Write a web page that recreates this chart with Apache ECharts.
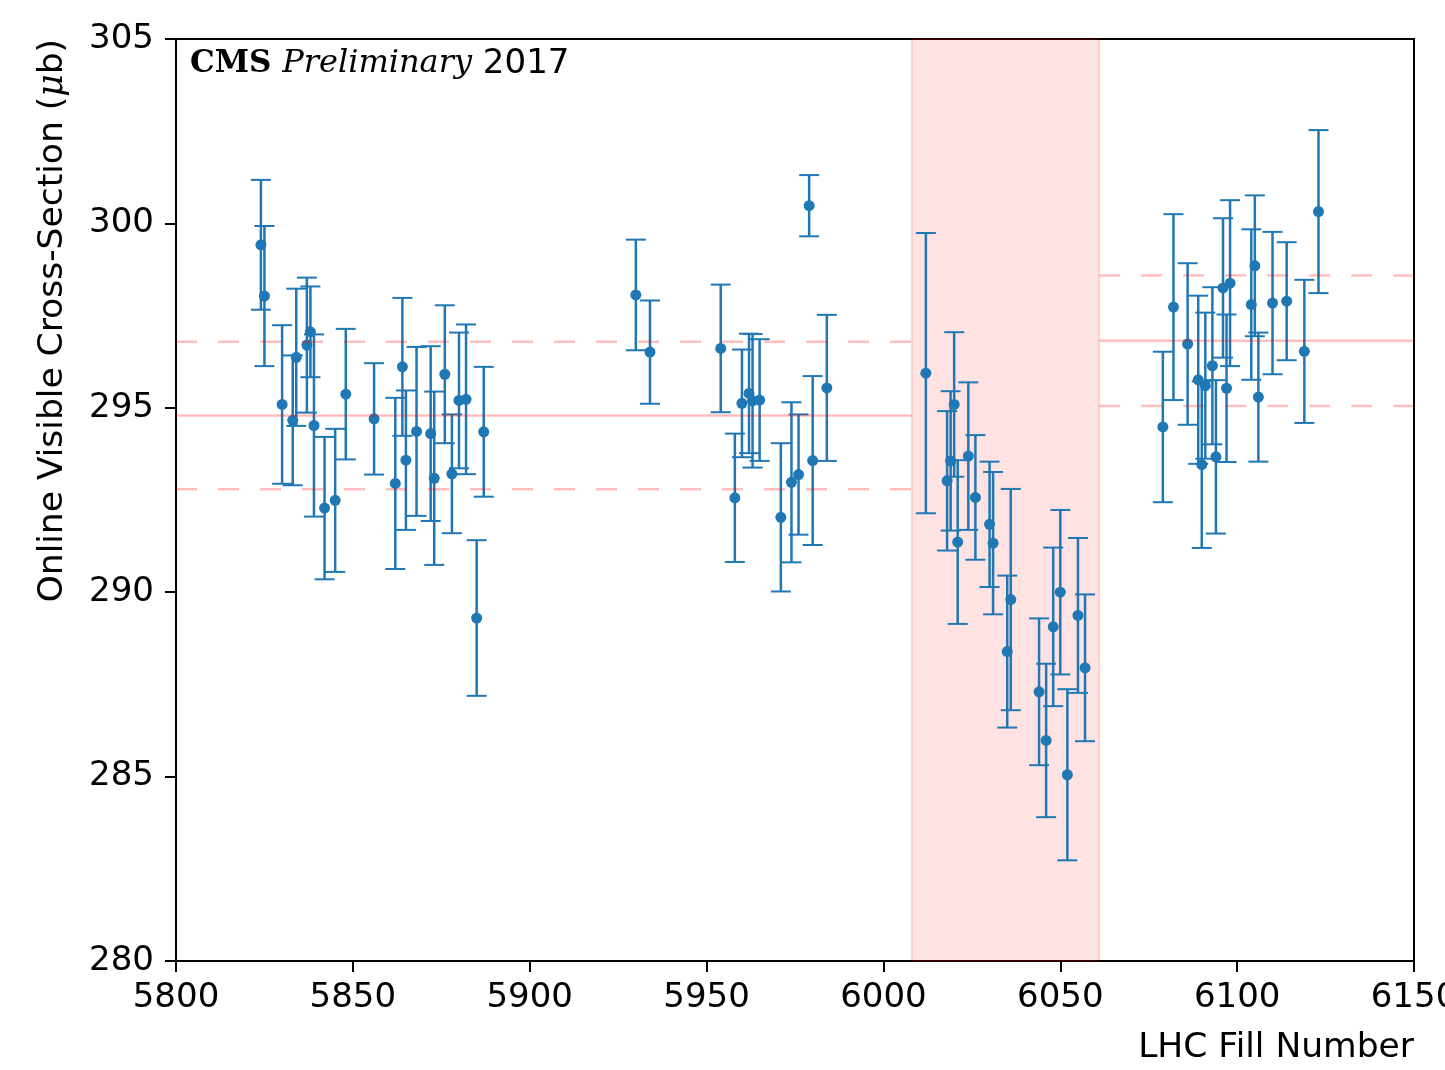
<!DOCTYPE html>
<html>
<head>
<meta charset="utf-8">
<script src="https://cdn.jsdelivr.net/npm/echarts@6/dist/echarts.min.js"></script>
<style>
  html, body { margin: 0; padding: 0; background: #fff; }
  #main { width: 1445px; height: 1070px; }
</style>
</head>
<body>
<div id="main"></div>
<script>
// LHC fills and the measured visible cross-section (ub) with its error
var fills = [5824, 5825, 5830, 5833, 5834, 5837, 5838, 5839, 5842, 5845, 5848, 5856,
             5862, 5864, 5865, 5868, 5872, 5873, 5876, 5878, 5880, 5882, 5885, 5887,
             5930, 5934, 5954, 5958, 5960, 5962, 5963, 5965, 5971, 5974, 5976, 5979, 5980, 5984,
             6012, 6018, 6019, 6020, 6021, 6024, 6026, 6030, 6031, 6035, 6036,
             6044, 6046, 6048, 6050, 6052, 6055, 6057,
             6079, 6082, 6086, 6089, 6090, 6091, 6093, 6094, 6096, 6097, 6098,
             6104, 6105, 6106, 6110, 6114, 6119, 6123];
var xsec = [299.42, 298.03, 295.09, 294.66, 296.37, 296.70, 297.06, 294.52, 292.28, 292.49, 295.37, 294.70,
            292.95, 296.11, 293.58, 294.36, 294.30, 293.09, 295.91, 293.21, 295.20, 295.23, 289.30, 294.35,
            298.06, 296.51, 296.61, 292.56, 295.12, 295.39, 295.19, 295.21, 292.03, 292.98, 293.19, 300.48, 293.57, 295.54,
            295.94, 293.02, 293.56, 295.09, 291.36, 293.69, 292.57, 291.84, 291.33, 288.39, 289.80,
            287.30, 285.98, 289.06, 290.00, 285.05, 289.37, 287.95,
            294.48, 297.73, 296.73, 295.76, 293.46, 295.60, 296.14, 293.67, 298.25, 295.53, 298.38,
            297.80, 298.85, 295.29, 297.84, 297.89, 296.53, 300.32];
var errs = [1.76, 1.90, 2.15, 1.76, 1.86, 1.83, 1.23, 2.47, 1.93, 1.94, 1.77, 1.51,
            2.32, 1.87, 1.89, 2.29, 2.37, 2.35, 1.87, 1.61, 1.84, 2.03, 2.11, 1.76,
            1.50, 1.40, 1.73, 1.74, 1.46, 1.62, 1.81, 1.65, 2.01, 2.17, 1.63, 0.83, 2.29, 1.98,
            3.80, 1.89, 1.89, 1.96, 2.22, 2.00, 1.69, 1.70, 1.93, 2.06, 3.00,
            1.99, 2.08, 2.15, 2.23, 2.32, 2.10, 1.99,
            2.04, 2.52, 2.19, 2.28, 2.26, 1.98, 2.13, 2.08, 1.89, 2.00, 2.25,
            2.04, 1.91, 1.75, 1.93, 1.60, 1.94, 2.21];

// shaded fill range and the two reference periods (mean, spread)
var bandRange = [6008, 6061];
var periodA = { from: 5800, to: 6008, mean: 294.79, spread: 2.0 };
var periodB = { from: 6061, to: 6150, mean: 296.82, spread: 1.77 };

var xTicks = [5800, 6150, 50];
var yTicks = [280, 305, 5];

var blue = '#1f77b4';
var refColor = 'rgba(255,0,0,0.25)';
var font = 'DejaVu Sans';

var pts = [], bars = [];
for (var i = 0; i < fills.length; i++) {
  pts.push([fills[i], xsec[i]]);
  bars.push([fills[i], xsec[i] - errs[i], xsec[i] + errs[i]]);
}

function refLines(p) {
  return [
    { y: p.mean, dash: 'solid' },
    { y: p.mean + p.spread, dash: [21, 21] },
    { y: p.mean - p.spread, dash: [21, 21] }
  ].map(function (r) {
    return {
      type: 'line', silent: true, symbol: 'none', z: 6,
      data: [[p.from, r.y], [p.to, r.y]],
      lineStyle: { color: refColor, width: 2.5, type: r.dash }
    };
  });
}

var myChart = echarts.init(document.getElementById('main'), null, { renderer: 'canvas' });

var axisText = { color: '#000', fontFamily: font, fontSize: 34, formatter: function (v) { return String(v); } };

option = {
  backgroundColor: '#fff',
  animation: false,
  grid: { left: 176, right: 31, top: 39, bottom: 109, outerBoundsMode: 'none', containLabel: false,
          show: true, borderColor: '#000', borderWidth: 2, backgroundColor: 'transparent' },
  xAxis: {
    type: 'value', min: xTicks[0], max: xTicks[1], interval: xTicks[2],
    axisLine: { onZero: false, lineStyle: { color: '#000', width: 2 } },
    axisTick: { inside: false, length: 11, lineStyle: { color: '#000', width: 2 } },
    axisLabel: Object.assign({ margin: 20, hideOverlap: false }, axisText),
    splitLine: { show: false }
  },
  yAxis: {
    type: 'value', min: yTicks[0], max: yTicks[1], interval: yTicks[2],
    axisLine: { show: true, onZero: false, lineStyle: { color: '#000', width: 2 } },
    axisTick: { show: true, inside: false, length: 11, lineStyle: { color: '#000', width: 2 } },
    axisLabel: Object.assign({ margin: 22 }, axisText),
    splitLine: { show: false }
  },
  graphic: [
    {
      type: 'text', x: 190, y: 64, z: 100,
      style: {
        text: '{b|CMS} {i|Preliminary} {n|2017}',
        textVerticalAlign: 'middle',
        rich: {
          b: { fontFamily: 'DejaVu Serif', fontWeight: 'bold', fontSize: 31, fill: '#000' },
          i: { fontFamily: 'DejaVu Serif', fontStyle: 'italic', fontSize: 32, fill: '#000' },
          n: { fontFamily: font, fontSize: 34, fill: '#000' }
        },
        fontFamily: font, fontSize: 34, fill: '#000'
      }
    },
    {
      type: 'text', x: 1414, y: 1048,
      style: { text: 'LHC Fill Number', fontFamily: font, fontSize: 34.5, fill: '#000', textAlign: 'right', textVerticalAlign: 'middle' }
    },
    {
      type: 'text', x: 53, y: 39, rotation: Math.PI / 2,
      style: {
        text: '{n|Online Visible Cross-Section (}{m|μ}{n|b)}',
        textAlign: 'right', textVerticalAlign: 'middle',
        rich: {
          n: { fontFamily: font, fontSize: 34.5, fill: '#000' },
          m: { fontFamily: 'DejaVu Serif', fontStyle: 'italic', fontSize: 34.5, fill: '#000' }
        },
        fontFamily: font, fontSize: 34.5, fill: '#000'
      }
    }
  ],
  series: [
    {
      type: 'line', data: [], z: 1, silent: true,
      markArea: {
        silent: true,
        itemStyle: { color: 'rgba(255,0,0,0.11)', borderColor: 'rgba(255,0,0,0.12)', borderWidth: 2 },
        data: [[{ xAxis: bandRange[0] }, { xAxis: bandRange[1] }]]
      }
    },
    {
      type: 'custom', z: 4, silent: true,
      data: bars,
      renderItem: function (params, api) {
        var lo = api.coord([api.value(0), api.value(1)]);
        var hi = api.coord([api.value(0), api.value(2)]);
        var cap = 10;
        var st = { stroke: blue, lineWidth: 2.5 };
        return {
          type: 'group',
          children: [
            { type: 'line', shape: { x1: lo[0], y1: lo[1], x2: hi[0], y2: hi[1] }, style: st },
            { type: 'line', shape: { x1: lo[0] - cap, y1: lo[1], x2: lo[0] + cap, y2: lo[1] }, style: { stroke: blue, lineWidth: 2 } },
            { type: 'line', shape: { x1: hi[0] - cap, y1: hi[1], x2: hi[0] + cap, y2: hi[1] }, style: { stroke: blue, lineWidth: 2 } }
          ]
        };
      }
    },
    {
      type: 'scatter', z: 5, data: pts, symbolSize: 11,
      itemStyle: { color: blue, opacity: 1 }
    }
  ].concat(refLines(periodA), refLines(periodB))
};
myChart.setOption(option);
</script>
</body>
</html>
